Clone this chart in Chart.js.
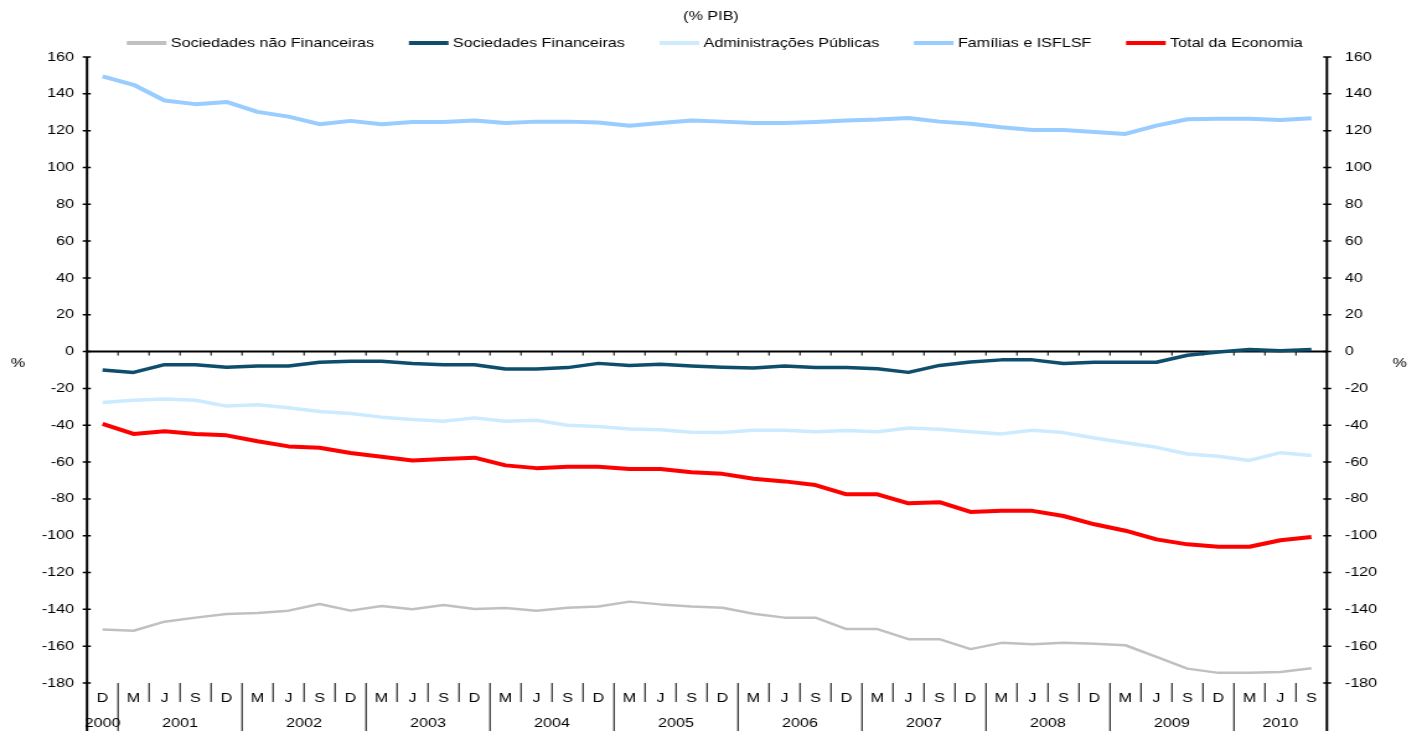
<!DOCTYPE html>
<html>
<head>
<meta charset="utf-8">
<script src="https://cdn.jsdelivr.net/npm/chart.js@4.4.0/dist/chart.umd.min.js"></script>
<style>
html, body { margin: 0; padding: 0; background: #fff; }
</style>
</head>
<body>
<canvas id="grafico" width="1147" height="731" style="display:block;width:1422px;height:731px;"></canvas>
<script>
// trimestres (D 2000 ... S 2010)
var meses = ['D',
    'M','J','S','D', 'M','J','S','D', 'M','J','S','D', 'M','J','S','D', 'M','J','S','D',
    'M','J','S','D', 'M','J','S','D', 'M','J','S','D', 'M','J','S','D',
    'M','J','S'];
var anos = ['2000',
    '2001','2001','2001','2001', '2002','2002','2002','2002', '2003','2003','2003','2003',
    '2004','2004','2004','2004', '2005','2005','2005','2005', '2006','2006','2006','2006',
    '2007','2007','2007','2007', '2008','2008','2008','2008', '2009','2009','2009','2009',
    '2010','2010','2010'];

var sociedadesNaoFin = [-150.9, -151.6, -146.7, -144.5, -142.5, -142.0, -140.7, -137.1, -140.7, -138.2,
    -140.0, -137.6, -139.8, -139.3, -140.7, -139.1, -138.5, -135.8, -137.3, -138.4,
    -139.1, -142.4, -144.5, -144.5, -150.7, -150.7, -156.2, -156.2, -161.6, -158.2,
    -158.9, -158.2, -158.7, -159.5, -165.8, -172.2, -174.5, -174.5, -174.0, -172.0];
var sociedadesFin = [-10.0, -11.3, -7.1, -7.1, -8.5, -7.8, -7.8, -5.8, -5.3, -5.3,
    -6.5, -7.1, -7.1, -9.5, -9.5, -8.7, -6.4, -7.6, -6.9, -7.8,
    -8.5, -8.9, -7.8, -8.7, -8.7, -9.3, -11.3, -7.5, -5.6, -4.5,
    -4.5, -6.5, -5.8, -5.8, -5.8, -2.0, -0.2, 1.1, 0.4, 1.1];
var adminPublicas = [-27.6, -26.4, -25.8, -26.4, -29.6, -28.9, -30.5, -32.5, -33.6, -35.6,
    -36.9, -37.8, -36.0, -37.8, -37.3, -40.0, -40.7, -42.0, -42.5, -43.8,
    -44.0, -42.7, -42.7, -43.5, -42.9, -43.5, -41.5, -42.2, -43.5, -44.7,
    -42.7, -44.0, -46.9, -49.5, -52.0, -55.6, -56.9, -59.1, -54.9, -56.4];
var familias = [149.5, 144.9, 136.4, 134.4, 135.6, 130.2, 127.6, 123.5, 125.3, 123.5,
    124.7, 124.7, 125.5, 124.2, 124.9, 124.9, 124.4, 122.7, 124.2, 125.5,
    124.9, 124.2, 124.2, 124.7, 125.5, 126.0, 126.9, 124.9, 123.8, 121.8,
    120.4, 120.4, 119.3, 118.2, 122.7, 126.2, 126.5, 126.5, 125.8, 126.7];
var totalEconomia = [-39.3, -44.7, -43.3, -44.7, -45.5, -48.7, -51.5, -52.2, -55.1, -57.1,
    -59.1, -58.4, -57.6, -61.8, -63.3, -62.5, -62.5, -63.8, -63.8, -65.5,
    -66.4, -69.1, -70.5, -72.5, -77.5, -77.5, -82.4, -81.8, -87.1, -86.5,
    -86.5, -89.3, -93.8, -97.3, -102.0, -104.7, -106.0, -106.0, -102.5, -100.7];

var titulo = '(% PIB)';
var unidade = '%';

var fonte = '13px "Liberation Sans", Arial, sans-serif';

// eixos, marcas, etiquetas de baixo, titulo e legenda
var desenhoExtra = {
    id: 'desenhoExtra',
    beforeDatasetsDraw: function(chart) {
        var ctx = chart.ctx;
        var a = chart.chartArea;
        var x = chart.scales.x;
        var y0 = chart.scales.y.getPixelForValue(0);

        ctx.save();
        ctx.strokeStyle = '#000';
        ctx.lineWidth = 2;
        ctx.beginPath();
        ctx.moveTo(a.left, y0);
        ctx.lineTo(a.right, y0);
        ctx.stroke();

        ctx.lineWidth = 1;
        ctx.beginPath();
        for (var k = 1; k < meses.length; k++) {
            var xb = (x.getPixelForValue(k - 1) + x.getPixelForValue(k)) / 2;
            ctx.moveTo(xb, y0);
            ctx.lineTo(xb, y0 + 4);
        }
        ctx.stroke();
        ctx.restore();
    },
    afterDraw: function(chart) {
        var ctx = chart.ctx;
        var a = chart.chartArea;
        var x = chart.scales.x;
        var y = chart.scales.y;
        var k, xb;

        ctx.save();
        ctx.strokeStyle = '#000';

        // eixos verticais ate ao fundo
        ctx.lineWidth = 2;
        ctx.beginPath();
        ctx.moveTo(a.left, a.top);
        ctx.lineTo(a.left, chart.height);
        ctx.moveTo(a.right, a.top);
        ctx.lineTo(a.right, chart.height);
        ctx.stroke();

        // marcas cruzadas
        ctx.lineWidth = 1.5;
        ctx.beginPath();
        y.ticks.forEach(function(t) {
            var yy = y.getPixelForValue(t.value);
            ctx.moveTo(a.left - 3.5, yy);
            ctx.lineTo(a.left + 3, yy);
            ctx.moveTo(a.right - 3, yy);
            ctx.lineTo(a.right + 3.5, yy);
        });
        ctx.stroke();

        // separadores dos trimestres e dos anos
        ctx.lineWidth = 1;
        ctx.beginPath();
        for (k = 1; k < meses.length; k++) {
            xb = (x.getPixelForValue(k - 1) + x.getPixelForValue(k)) / 2;
            ctx.moveTo(xb, a.bottom);
            ctx.lineTo(xb, anos[k] !== anos[k - 1] ? chart.height : a.bottom + 19);
        }
        ctx.stroke();

        ctx.fillStyle = '#000';
        ctx.font = fonte;
        ctx.textAlign = 'center';
        ctx.textBaseline = 'middle';
        meses.forEach(function(m, i) {
            ctx.fillText(m, x.getPixelForValue(i), a.bottom + 15.5);
        });

        var inicio = 0;
        for (k = 1; k <= anos.length; k++) {
            if (k === anos.length || anos[k] !== anos[inicio]) {
                var xc = (x.getPixelForValue(inicio) + x.getPixelForValue(k - 1)) / 2;
                ctx.fillText(anos[inicio], xc, a.bottom + 40.5);
                inicio = k;
            }
        }

        // titulo e unidades
        ctx.fillText(titulo, chart.width / 2, 16);
        ctx.fillText(unidade, 14.5, 363);
        ctx.fillText(unidade, 1129, 363);

        // legenda
        var ds = chart.data.datasets;
        var linha = 32, folga = 3.5, espaco = 28;
        var total = 0;
        ds.forEach(function(d) { total += linha + folga + ctx.measureText(d.label).width; });
        total += espaco * (ds.length - 1);
        var cx = chart.width / 2 - total / 2 + 3;
        var ly = 43;
        ctx.textAlign = 'left';
        ds.forEach(function(d) {
            ctx.strokeStyle = d.borderColor;
            ctx.lineWidth = 4;
            ctx.beginPath();
            ctx.moveTo(cx, ly);
            ctx.lineTo(cx + linha, ly);
            ctx.stroke();
            cx += linha + folga;
            ctx.fillText(d.label, cx, ly);
            cx += ctx.measureText(d.label).width + espaco;
        });

        ctx.restore();
    }
};

function eixoY(posicao, largura, pad) {
    return {
        position: posicao,
        min: -180,
        max: 160,
        ticks: {
            stepSize: 20,
            color: '#000',
            padding: pad,
            font: { family: '"Liberation Sans", Arial, sans-serif', size: 13 }
        },
        grid: { drawOnChartArea: false, drawTicks: false },
        border: { display: false },
        afterFit: function(scale) { scale.width = largura; }
    };
}

var ctx = document.getElementById('grafico').getContext('2d');
var chart = new Chart(ctx, {
    type: 'line',
    data: {
        labels: meses,
        datasets: [
            { label: 'Sociedades não Financeiras', data: sociedadesNaoFin, borderColor: '#C0C0C0', borderWidth: 2.5 },
            { label: 'Sociedades Financeiras', data: sociedadesFin, borderColor: '#0E4D6C', borderWidth: 3.5 },
            { label: 'Administrações Públicas', data: adminPublicas, borderColor: '#CCEBFF', borderWidth: 3.5 },
            { label: 'Famílias e ISFLSF', data: familias, borderColor: '#99CCFF', borderWidth: 4 },
            { label: 'Total da Economia', data: totalEconomia, borderColor: '#FF0000', borderWidth: 4 }
        ]
    },
    options: {
        responsive: false,
        animation: false,
        devicePixelRatio: 1,
        layout: { padding: { top: 57, bottom: 48, left: 0, right: 0 } },
        elements: {
            point: { radius: 0 },
            line: { tension: 0, fill: false, borderJoinStyle: 'round' }
        },
        plugins: {
            legend: { display: false },
            title: { display: false },
            tooltip: { enabled: false }
        },
        scales: {
            x: { type: 'category', offset: true, display: false },
            y: eixoY('left', 70.2, 10.5),
            y2: eixoY('right', 76.7, 14.5)
        }
    },
    plugins: [desenhoExtra]
});
</script>
</body>
</html>
